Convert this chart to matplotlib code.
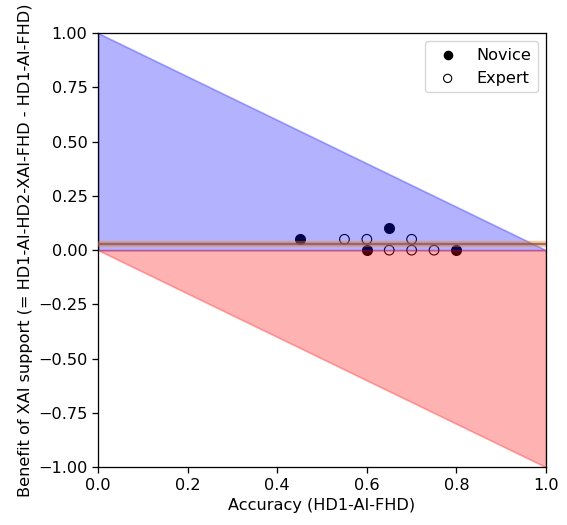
import matplotlib
matplotlib.use("Agg")
import matplotlib.pyplot as plt
import numpy as np

novice_x = [0.45, 0.60, 0.65, 0.80]
novice_y = [0.05, 0.00, 0.10, 0.00]
expert_x = [0.55, 0.60, 0.65, 0.70, 0.70, 0.75]
expert_y = [0.05, 0.05, 0.00, 0.05, 0.00, 0.00]
mean_benefit = 0.03
ci_low, ci_high = 0.02, 0.04

sc = 1.16
plt.rcParams.update({
    'font.size': 10 * sc,
    'axes.linewidth': 0.8 * sc,
    'xtick.major.width': 0.8 * sc,
    'ytick.major.width': 0.8 * sc,
    'xtick.major.size': 3.5 * sc,
    'ytick.major.size': 3.5 * sc,
})

fig, ax = plt.subplots(figsize=(5.67, 5.25), dpi=100)
ax.scatter(novice_x, novice_y, c='black', s=36 * sc * sc, label='Novice', zorder=1)
ax.scatter(expert_x, expert_y, facecolors='none', edgecolors='black', linewidths=0.8,
           s=36 * sc * sc, label='Expert', zorder=1)

xs = np.array([0.0, 1.0])
ax.fill_between(xs, 0, 1 - xs, color='blue', alpha=0.3, zorder=2, lw=1.2)
ax.fill_between(xs, -xs, 0, color='red', alpha=0.3, zorder=2, lw=1.2)
ax.axhspan(ci_low, ci_high, color='tab:orange', alpha=0.3, zorder=3)
ax.axhline(mean_benefit, color='tab:brown', lw=1.7, alpha=0.8, zorder=3)

ax.set_xlim(0, 1)
ax.set_ylim(-1, 1)
ax.set_xlabel('Accuracy (HD1-AI-FHD)')
ax.set_ylabel('Benefit of XAI support (= HD1-AI-HD2-XAI-FHD - HD1-AI-FHD)')
ax.legend(loc='upper right', markerscale=0.85)
fig.subplots_adjust(left=0.173, right=0.963, bottom=0.11, top=0.937)
fig.savefig('out.png', dpi=100)
